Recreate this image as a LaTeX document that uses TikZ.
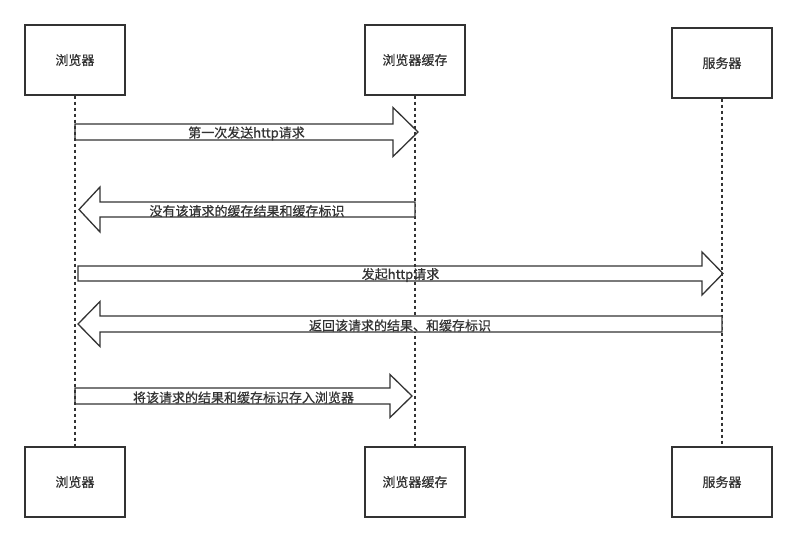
\documentclass[tikz,border=0pt]{standalone}
\usepackage{fontspec}
\setmainfont{Noto Sans CJK SC}[FakeBold=0.6]
\usetikzlibrary{calc}
\definecolor{ink}{HTML}{333333}
\tikzset{
  actor/.style={draw=ink, line width=1.3pt, fill=white, minimum width=100pt, minimum height=70pt, inner sep=0pt, text=ink, font=\fontsize{13}{15}\selectfont},
  life/.style={draw=ink, line width=1.5pt, dash pattern=on 3pt off 3pt},
  blk/.style={draw=ink, line width=1.3pt, fill=white, line join=miter},
  lbl/.style={text=ink, inner sep=0pt, font=\fontsize{13}{15}\selectfont}
}
\newcommand\blockarrow[7]{%
  \draw[blk] let \p1=(#1),\p2=(#2) in
    (\x1,\y1+#4) -- (\x2-#3*1pt,\y1+#4) -- (\x2-#3*1pt,\y1+#5) -- (\x2,\y1)
    -- (\x2-#3*1pt,\y1-#5) -- (\x2-#3*1pt,\y1-#4) -- (\x1,\y1-#4) -- cycle;
  \node[lbl] (#6) at ($(#1)!0.5!(#2)+(0,-1.5pt)$) {#7};%
}
\begin{document}
\begin{tikzpicture}[x=1pt,y=-1pt]
\useasboundingbox (0,0) rectangle (798,542);
% actors
\node[actor] (b1) at (75,60) {浏览器};
\node[actor] (b2) at (415,60) {浏览器缓存};
\node[actor] (b3) at (722,63) {服务器};
\node[actor] (e1) at (75,482) {浏览器};
\node[actor] (e2) at (415,482) {浏览器缓存};
\node[actor] (e3) at (722,482) {服务器};
% arrow end points
\coordinate (a1s) at (75,132);   \coordinate (a1t) at (418,132);
\coordinate (a2s) at (415,209.5);\coordinate (a2t) at (79,209.5);
\coordinate (a3s) at (78,273.5); \coordinate (a3t) at (723,273.5);
\coordinate (a4s) at (722,324);  \coordinate (a4t) at (78,324);
\coordinate (a5s) at (75,396);   \coordinate (a5t) at (412,396);
\blockarrow{a1s}{a1t}{25}{8pt}{24.5pt}{m1}{第一次发送http请求}
\blockarrow{a3s}{a3t}{21}{7.5pt}{21.5pt}{m3}{发起http请求}
\blockarrow{a5s}{a5t}{22}{8pt}{21.5pt}{m5}{将该请求的结果和缓存标识存入浏览器}
% lifelines
\draw[life] (b1.south) -- (e1.north);
\draw[life] (b2.south) -- (e2.north);
\draw[life] (b3.south) -- (e3.north);
% reply arrows above the lifelines
\blockarrow{a2s}{a2t}{-21}{7.5pt}{22.5pt}{m2}{没有该请求的缓存结果和缓存标识}
\blockarrow{a4s}{a4t}{-22}{8pt}{22.5pt}{m4}{返回该请求的结果、和缓存标识}
\end{tikzpicture}
\end{document}
